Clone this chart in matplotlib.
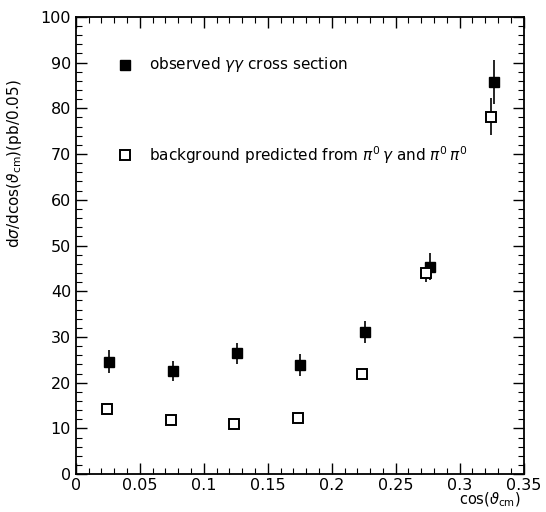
import matplotlib
matplotlib.use("Agg")
import matplotlib.pyplot as plt
from matplotlib.ticker import MultipleLocator

plt.rcParams['font.family'] = ['DejaVu Sans']
plt.rcParams['mathtext.fontset'] = 'dejavusans'

# observed gamma-gamma cross section (filled squares)
obs_x = [0.026, 0.076, 0.126, 0.1755, 0.226, 0.2765, 0.3265]
obs_y = [24.6, 22.6, 26.4, 23.9, 31.1, 45.4, 85.8]
obs_err = [2.5, 2.2, 2.3, 2.4, 2.4, 2.9, 4.8]

# background predicted (open squares)
bkg_x = [0.024, 0.074, 0.1235, 0.1735, 0.2237, 0.2735, 0.3245]
bkg_y = [14.3, 11.8, 10.9, 12.3, 21.8, 44.0, 78.2]
bkg_err = [0.8, 0.6, 0.5, 0.6, 1.0, 2.0, 4.0]

xticks = [0, 0.05, 0.1, 0.15, 0.2, 0.25, 0.3, 0.35]
xticklabels = ['0', '0.05', '0.1', '0.15', '0.2', '0.25', '0.3', '0.35']
yticks = [0, 10, 20, 30, 40, 50, 60, 70, 80, 90, 100]

fig = plt.figure(figsize=(5.46, 5.12), dpi=100)
ax = fig.add_axes([0.139, 0.074, 0.820, 0.893])

ax.errorbar(obs_x, obs_y, yerr=obs_err, fmt='s', color='black', ms=7,
            mfc='black', mec='black', elinewidth=1.2, capsize=0, zorder=3)
ax.errorbar(bkg_x, bkg_y, yerr=bkg_err, fmt='s', color='black', ms=7,
            mfc='white', mec='black', mew=1.4, elinewidth=1.2, capsize=0, zorder=3)

ax.set_xlim(0, 0.35)
ax.set_ylim(0, 100)
ax.set_xticks(xticks)
ax.set_xticklabels(xticklabels)
ax.set_yticks(yticks)
ax.xaxis.set_minor_locator(MultipleLocator(0.01))
ax.yaxis.set_minor_locator(MultipleLocator(2))
ax.tick_params(which='both', direction='in', top=True, right=True, labelsize=11.5)
ax.tick_params(axis='x', pad=2.5)
ax.tick_params(which='major', length=8, width=1)
ax.tick_params(which='minor', length=4, width=0.8)
for s in ax.spines.values():
    s.set_linewidth(1.3)

# legend (hand-placed like the original)
ax.plot([0.0385], [89.5], 's', color='black', ms=7)
ax.text(0.057, 89.5, r'observed $\gamma\gamma$ cross section', fontsize=11,
        va='center', ha='left')
ax.plot([0.0385], [69.8], 's', mfc='white', mec='black', mew=1.4, ms=7)
ax.text(0.057, 69.8, r'background predicted from $\pi^0\,\gamma$ and $\pi^0\,\pi^0$',
        fontsize=11, va='center', ha='left')

ax.set_xlabel(r'cos($\vartheta_{\rm cm}$)', fontsize=10.5)
ax.xaxis.set_label_coords(0.925, -0.037)
ax.set_ylabel(r'd$\sigma$/dcos($\vartheta_{\rm cm}$)(pb/0.05)', fontsize=11)
ax.yaxis.set_label_coords(-0.115, 0.68)

fig.savefig('out.png', dpi=100)
